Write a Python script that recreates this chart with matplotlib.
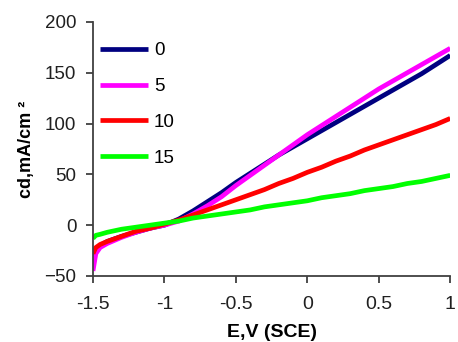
import matplotlib
matplotlib.use('Agg')
import matplotlib.pyplot as plt

# potenziale (V vs SCE) e densita' di corrente (mA/cm2) per ciascuna serie
potential = [-1.5, -1.48, -1.45, -1.4, -1.3, -1.2, -1.1, -1.0, -0.9, -0.8, -0.7,
             -0.6, -0.5, -0.4, -0.3, -0.2, -0.1, 0.0, 0.1, 0.2, 0.3, 0.4,
             0.5, 0.6, 0.7, 0.8, 0.9, 1.0]

cd_0 = [-30, -24, -20, -16, -11, -7, -3, 0, 6, 14, 23, 32, 42, 51, 60, 69,
        77, 85, 93, 101, 109, 117, 125, 133, 141, 149, 158, 167]
cd_5 = [-45, -28, -22, -18, -12, -7, -3, 0, 4, 11, 19, 28, 39, 49, 59, 69,
        79, 89, 98, 107, 116, 125, 134, 142, 150, 158, 166, 174]
cd_10 = [-28, -22, -19, -16, -11, -6, -3, 1, 5, 10, 15, 20, 25, 30, 35, 41,
         46, 52, 57, 63, 68, 74, 79, 84, 89, 94, 99, 105]
cd_15 = [-13, -10, -9, -7, -4, -2, 0, 2, 4, 7, 9, 11, 13, 15, 18, 20,
         22, 24, 27, 29, 31, 34, 36, 38, 41, 43, 46, 49]

labels = ['0', '5', '10', '15']
colors = ['#000080', '#ff00ff', '#ff0000', '#00ff00']

plt.rcParams['font.family'] = ['Liberation Sans', 'DejaVu Sans']

fig = plt.figure(figsize=(4.58, 3.42), dpi=100)
ax = fig.add_axes([0.203, 0.193, 0.78, 0.743])

for y, lab, c in zip([cd_0, cd_5, cd_10, cd_15], labels, colors):
    ax.plot(potential, y, color=c, lw=3.4, label=lab, solid_capstyle='butt')

ax.set_xlim(-1.5, 1.0)
ax.set_ylim(-50, 200)
ax.set_xticks([-1.5, -1, -0.5, 0, 0.5, 1])
ax.set_xticklabels(['-1.5', '-1', '-0.5', '0', '0.5', '1'])
ax.set_yticks([-50, 0, 50, 100, 150, 200])

for s in ['top', 'right']:
    ax.spines[s].set_visible(False)
for s in ['left', 'bottom']:
    ax.spines[s].set_color('#404040')
    ax.spines[s].set_linewidth(1.3)
ax.tick_params(direction='out', length=5, width=1.3, color='#404040',
               labelsize=13.5, labelcolor='#202020', pad=7)
ax.tick_params(axis='x', labelsize=14, pad=9.5)

ax.set_xlabel('E,V (SCE)', fontsize=14, fontweight='bold', labelpad=8)
ax.set_ylabel('cd,mA/cm ²', fontsize=13, fontweight='bold', labelpad=7)

ax.legend(loc='upper left', bbox_to_anchor=(0.0, 0.95), frameon=False,
          fontsize=13.5, handlelength=2.55, handletextpad=0.3,
          labelspacing=1.0, borderaxespad=0.0)

fig.savefig('out.png', dpi=100)
